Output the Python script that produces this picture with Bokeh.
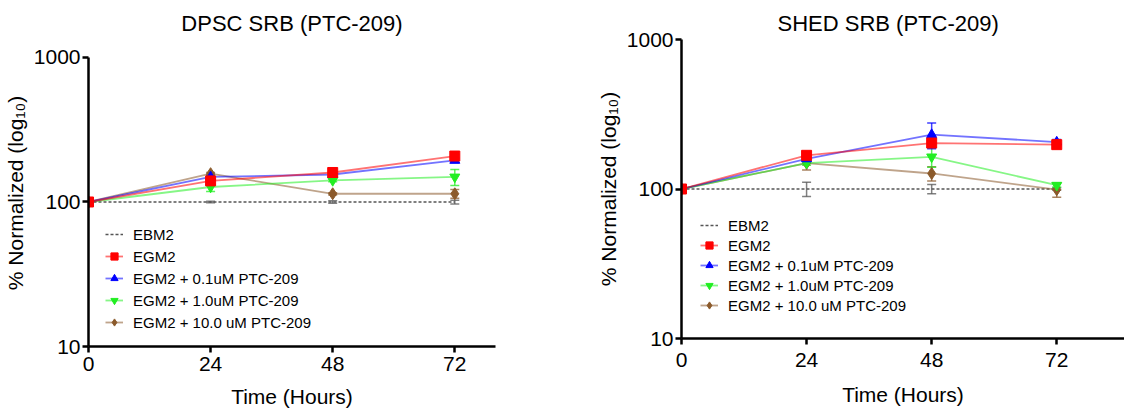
from bokeh.plotting import figure
from bokeh.layouts import row
from bokeh.models import (ColumnDataSource, FixedTicker, Whisker, TeeHead,
                          Legend, LegendItem)
from bokeh.embed import file_html
from bokeh.resources import INLINE

hours = [0, 24, 48, 72]
series_names = ["EBM2", "EGM2", "EGM2 + 0.1uM PTC-209",
                "EGM2 + 1.0uM PTC-209", "EGM2 + 10.0 uM PTC-209"]
y_ticks = [10, 100, 1000]
x_ticks = [0, 24, 48, 72]

# DPSC values (% normalized) and error bars
dpsc_ebm2 = [100, 100, 100, 100]
dpsc_ebm2_err = [0, 1, 2, 3]
dpsc_egm2 = [100, 140, 160, 208]
dpsc_egm2_err = [0, 3, 3, 5]
dpsc_p01 = [100, 149, 155, 194]
dpsc_p01_err = [0, 4, 3, 6]
dpsc_p10 = [100, 127, 141, 149]
dpsc_p10_err = [0, 9, 3, 19]
dpsc_p100 = [100, 157, 114, 114]
dpsc_p100_err = [0, 3, 2, 8]

# SHED values (% normalized) and error bars
shed_ebm2 = [100, 100, 100, 100]
shed_ebm2_err = [0, 11, 7, 2]
shed_egm2 = [100, 168, 203, 198]
shed_egm2_err = [0, 4, 12, 5]
shed_p01 = [100, 159, 231, 206]
shed_p01_err = [0, 4, 45, 8]
shed_p10 = [100, 149, 164, 106]
shed_p10_err = [0, 5, 24, 3]
shed_p100 = [100, 149, 127, 99]
shed_p100_err = [0, 15, 14, 11]

FONT = "Liberation Sans"
colors = ["#555555", "#ff0000", "#0000ff", "#22ee22", "#8b5a2b"]
markers = [None, "square", "triangle", "inverted_triangle", "diamond"]
msizes = [0, 10, 10, 10, 12]


def make_plot(title, vals, errs, fw, fh, ytop, bl, br, bt, bb, xmax,
              legend_loc, legend_spacing, tick_so, label_so, title_align,
              title_off):
    p = figure(frame_width=fw, frame_height=fh, x_range=(0, xmax),
               y_range=(10, ytop),
               y_axis_type="log", output_backend="svg", toolbar_location=None,
               min_border_left=bl, min_border_right=br, min_border_top=bt,
               min_border_bottom=bb, title=title)
    p.title.align = title_align
    p.title.offset = title_off
    p.title.text_font = FONT
    p.title.text_font_size = "22px"
    p.title.text_font_style = "normal"
    p.title.text_color = "black"
    p.title.standoff = 7
    p.outline_line_color = None
    p.xgrid.visible = False
    p.ygrid.visible = False
    p.background_fill_color = "white"

    for ax in (p.xaxis[0], p.yaxis[0]):
        ax.axis_line_width = 2.5
        ax.axis_line_color = "black"
        ax.major_tick_line_width = 2.5
        ax.major_tick_out = 6
        ax.major_tick_in = 0
        ax.minor_tick_line_color = None
        ax.major_label_text_font = FONT
        ax.major_label_text_font_size = "21px"
        ax.major_label_text_color = "black"
        ax.axis_label_text_font = FONT
        ax.axis_label_text_font_size = "21px"
        ax.axis_label_text_font_style = "normal"
        ax.axis_label_text_color = "black"
    p.xaxis.ticker = FixedTicker(ticks=x_ticks, minor_ticks=[])
    p.yaxis.ticker = FixedTicker(ticks=y_ticks, minor_ticks=[])
    p.yaxis.bounds = (10, 1000)
    p.yaxis.major_label_overrides = {t: str(t) for t in y_ticks}
    p.xaxis.axis_label = "Time (Hours)"
    p.yaxis.axis_label = "% Normalized (log\u2081\u2080)"
    p.xaxis.major_label_standoff = tick_so
    p.yaxis.major_label_standoff = 2
    p.xaxis.axis_label_standoff = label_so
    p.yaxis.axis_label_standoff = 4

    items = []
    order = [0, 4, 3, 2, 1]
    rend = {}
    for i in order:
        v, e = vals[i], errs[i]
        src = ColumnDataSource(dict(x=hours, y=v,
                                    lo=[a - b for a, b in zip(v, e)],
                                    hi=[a + b for a, b in zip(v, e)]))
        c = colors[i]
        wk = Whisker(source=src, base="x", upper="hi", lower="lo",
                     dimension="height", line_color=c, line_width=1.5,
                     line_alpha=0.75,
                     upper_head=TeeHead(size=9, line_color=c, line_width=1.5,
                                        line_alpha=0.75),
                     lower_head=TeeHead(size=9, line_color=c, line_width=1.5,
                                        line_alpha=0.75))
        p.add_layout(wk)
        if i == 0:
            ln = p.line("x", "y", source=src, line_color=c, line_width=1.5,
                        line_dash="3 2")
            rend[i] = [ln]
        else:
            ln = p.line("x", "y", source=src, line_color=c, line_width=1.8,
                        line_alpha=0.55)
            mk = p.scatter("x", "y", source=src, marker=markers[i],
                           size=msizes[i], fill_color=c, line_color=c)
            rend[i] = [ln, mk]
    for i in range(5):
        items.append(LegendItem(label=series_names[i], renderers=rend[i]))
    lg = Legend(items=items, location=legend_loc, padding=0, margin=0,
                spacing=legend_spacing, glyph_width=18, glyph_height=20,
                label_height=20, label_standoff=10,
                label_text_font=FONT, label_text_font_size="15px",
                label_text_color="black", border_line_color=None,
                background_fill_alpha=0)
    p.add_layout(lg)
    return p


p1 = make_plot("DPSC SRB (PTC-209)",
               [dpsc_ebm2, dpsc_egm2, dpsc_p01, dpsc_p10, dpsc_p100],
               [dpsc_ebm2_err, dpsc_egm2_err, dpsc_p01_err, dpsc_p10_err,
                dpsc_p100_err],
               fw=407, fh=307, ytop=1332, bl=82, br=71, bt=39, bb=64, xmax=80,
               legend_loc=(17, 14), legend_spacing=2, tick_so=4, label_so=11,
               title_align="center", title_off=0)
p2 = make_plot("SHED SRB (PTC-209)",
               [shed_ebm2, shed_egm2, shed_p01, shed_p10, shed_p100],
               [shed_ebm2_err, shed_egm2_err, shed_p01_err, shed_p10_err,
                shed_p100_err],
               fw=443, fh=299, ytop=1000, bl=115, br=0, bt=39, bb=72, xmax=85,
               legend_loc=(19, 23), legend_spacing=0, tick_so=8, label_so=13,
               title_align="left", title_off=96)

layout = row(p1, p2)
open("out.html", "w").write(file_html(layout, INLINE))
